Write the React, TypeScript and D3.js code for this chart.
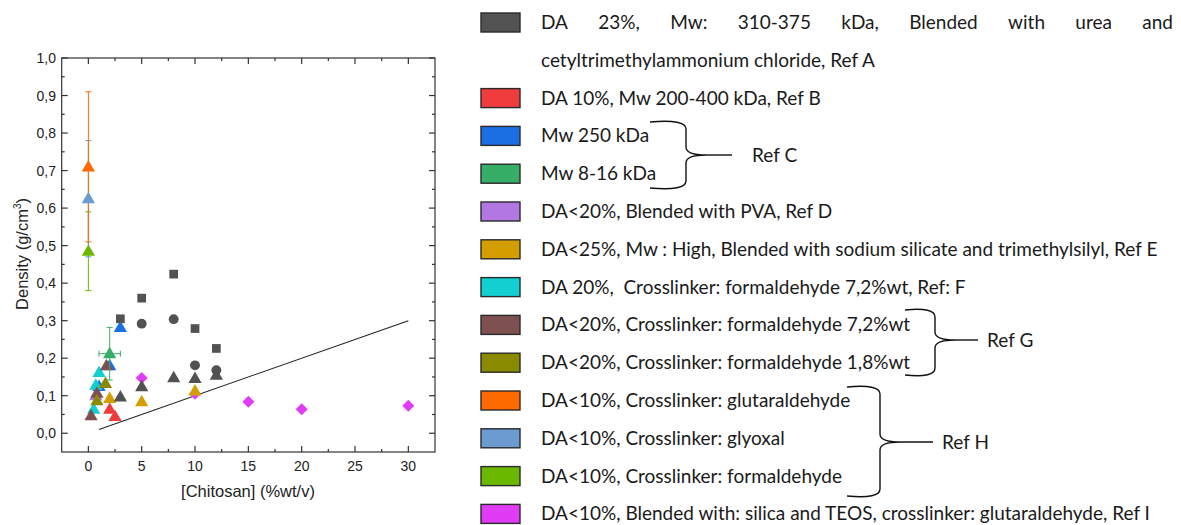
import React, { useEffect, useRef } from "react";
import * as d3 from "d3";

// ---------- data ----------
const xTicks = [0, 5, 10, 15, 20, 25, 30];
const yTicks = [0, 0.1, 0.2, 0.3, 0.4, 0.5, 0.6, 0.7, 0.8, 0.9, 1.0];

const refA_sq_x = [3, 5, 8, 10, 12];
const refA_sq_y = [0.305, 0.36, 0.424, 0.279, 0.226];
const refA_ci_x = [5, 8, 10, 12];
const refA_ci_y = [0.292, 0.304, 0.181, 0.168];
const refA_tr_x = [3, 5, 8, 10, 12];
const refA_tr_y = [0.097, 0.124, 0.148, 0.146, 0.155];
const refB_x = [2, 2.5];
const refB_y = [0.064, 0.045];
const refC250_x = [1, 2, 3];
const refC250_y = [0.125, 0.18, 0.282];
const refC816_x = [2];
const refC816_y = [0.212];
const refC816_xerr = [1];
const refC816_yerr = [0.07];
const refD_x = [0.7];
const refD_y = [0.1];
const refE_x = [2, 5, 10];
const refE_y = [0.093, 0.084, 0.113];
const refF_x = [1, 0.7, 0.5];
const refF_y = [0.162, 0.128, 0.064];
const refG72_x = [1.7, 0.8, 0.25];
const refG72_y = [0.18, 0.107, 0.047];
const refG18_x = [1.6, 0.8];
const refG18_y = [0.133, 0.087];
const refHglu_x = [0];
const refHglu_y = [0.71];
const refHglu_err = [0.2];
const refHgly_x = [0];
const refHgly_y = [0.625];
const refHgly_err = [0.155];
const refHfor_x = [0];
const refHfor_y = [0.485];
const refHfor_err = [0.105];
const refI_x = [5, 10, 15, 20, 30];
const refI_y = [0.147, 0.105, 0.084, 0.064, 0.073];
const trend_x = [1, 30];
const trend_y = [0.01, 0.3];

const legendLabels = [
  ["DA 23%, Mw: 310-375 kDa, Blended with urea and", "cetyltrimethylammonium chloride, Ref A"],
  ["DA 10%, Mw 200-400 kDa, Ref B"],
  ["Mw 250 kDa"],
  ["Mw 8-16 kDa"],
  ["DA<20%, Blended with PVA, Ref D"],
  ["DA<25%, Mw : High, Blended with sodium silicate and trimethylsilyl, Ref E"],
  ["DA 20%,\u00A0 Crosslinker: formaldehyde 7,2%wt, Ref: F"],
  ["DA<20%, Crosslinker: formaldehyde 7,2%wt"],
  ["DA<20%, Crosslinker: formaldehyde 1,8%wt"],
  ["DA<10%, Crosslinker: glutaraldehyde"],
  ["DA<10%, Crosslinker: glyoxal"],
  ["DA<10%, Crosslinker: formaldehyde"],
  ["DA<10%, Blended with: silica and TEOS, crosslinker: glutaraldehyde, Ref I"],
];
const braceLabels = ["Ref C", "Ref G", "Ref H"];

// ---------- styles ----------
const C = {
  A: "#525252",
  B: "#f03c3c",
  C250: "#1c6fe3",
  C816: "#36ae68",
  D: "#b277e3",
  E: "#d49e00",
  F: "#12cfd2",
  G72: "#7e5050",
  G18: "#8a8a00",
  Hglu: "#ff6a00",
  Hgly: "#6b9bd0",
  Hfor: "#6bb800",
  I: "#e03cf6",
};
const legendColors = [C.A, C.B, C.C250, C.C816, C.D, C.E, C.F, C.G72, C.G18, C.Hglu, C.Hgly, C.Hfor, C.I];

export default function App() {
  const ref = useRef<SVGSVGElement>(null);

  useEffect(() => {
    const svg = d3.select(ref.current);
    svg.selectAll("*").remove();

    const x = d3.scaleLinear().domain([-2.5, 32.5]).range([61.7, 435]);
    const y = d3.scaleLinear().domain([-0.05, 1.0]).range([452, 58]);

    const axisFont = "'Liberation Sans', Arial, sans-serif";
    const g = svg.append("g");

    // trend line
    g.append("line")
      .attr("x1", x(trend_x[0])).attr("y1", y(trend_y[0]))
      .attr("x2", x(trend_x[1])).attr("y2", y(trend_y[1]))
      .attr("stroke", "#222").attr("stroke-width", 1.1);

    const tri = d3.symbol().type(d3.symbolTriangle).size(76);
    const sq = d3.symbol().type(d3.symbolSquare).size(76);
    const ci = d3.symbol().type(d3.symbolCircle).size(76);
    const dia = d3.symbol().type(d3.symbolSquare).size(72);

    const draw = (xs: number[], ys: number[], sym: any, color: string, dy = 0.8, rot = 0) => {
      xs.forEach((xv, i) => {
        g.append("path")
          .attr("d", sym())
          .attr("transform", `translate(${x(xv)},${y(ys[i]) + dy}) rotate(${rot})`)
          .attr("fill", color);
      });
    };

    const errY = (xs: number[], ys: number[], es: number[], color: string) => {
      xs.forEach((xv, i) => {
        const cx = x(xv);
        const t = y(ys[i] + es[i]);
        const b = y(ys[i] - es[i]);
        g.append("line").attr("x1", cx).attr("x2", cx).attr("y1", t).attr("y2", b).attr("stroke", color).attr("stroke-width", 1);
        g.append("line").attr("x1", cx - 3).attr("x2", cx + 3).attr("y1", t).attr("y2", t).attr("stroke", color).attr("stroke-width", 1);
        g.append("line").attr("x1", cx - 3).attr("x2", cx + 3).attr("y1", b).attr("y2", b).attr("stroke", color).attr("stroke-width", 1);
      });
    };
    const errX = (xs: number[], ys: number[], es: number[], color: string) => {
      xs.forEach((xv, i) => {
        const cy = y(ys[i]);
        const l = x(xv - es[i]);
        const r = x(xv + es[i]);
        g.append("line").attr("x1", l).attr("x2", r).attr("y1", cy).attr("y2", cy).attr("stroke", color).attr("stroke-width", 1);
        g.append("line").attr("x1", l).attr("x2", l).attr("y1", cy - 3).attr("y2", cy + 3).attr("stroke", color).attr("stroke-width", 1);
        g.append("line").attr("x1", r).attr("x2", r).attr("y1", cy - 3).attr("y2", cy + 3).attr("stroke", color).attr("stroke-width", 1);
      });
    };

    draw(refI_x, refI_y, dia, C.I, 0, 45);
    draw(refD_x, refD_y, tri, C.D);
    draw(refC250_x, refC250_y, tri, C.C250);
    draw(refF_x, refF_y, tri, C.F);
    draw(refG72_x, refG72_y, tri, C.G72);
    draw(refG18_x, refG18_y, tri, C.G18);
    draw(refB_x, refB_y, tri, C.B);
    draw(refE_x, refE_y, tri, C.E);
    draw(refA_sq_x, refA_sq_y, sq, C.A, 0);
    draw(refA_ci_x, refA_ci_y, ci, C.A, 0);
    draw(refA_tr_x, refA_tr_y, tri, C.A);
    errY(refC816_x, refC816_y, refC816_yerr, C.C816);
    errX(refC816_x, refC816_y, refC816_xerr, C.C816);
    draw(refC816_x, refC816_y, tri, C.C816);
    errY(refHfor_x, refHfor_y, refHfor_err, C.Hfor);
    errY(refHgly_x, refHgly_y, refHgly_err, C.Hgly);
    errY(refHglu_x, refHglu_y, refHglu_err, C.Hglu);
    draw(refHfor_x, refHfor_y, tri, C.Hfor);
    draw(refHgly_x, refHgly_y, tri, C.Hgly);
    draw(refHglu_x, refHglu_y, tri, C.Hglu);

    // frame
    const [x0, x1] = x.range();
    const [y0, y1] = y.range();
    const ax = svg.append("g").attr("stroke", "#333").attr("stroke-width", 1.2);
    ax.append("rect").attr("x", x0).attr("y", y1).attr("width", x1 - x0).attr("height", y0 - y1).attr("fill", "none");

    const xMinor = d3.range(-2.5, 32.6, 2.5).filter((v) => v > -2.5 && v < 32.5);
    xMinor.forEach((v) => {
      const major = Math.abs(v % 5) < 1e-9;
      const L = major ? 6 : 3;
      ax.append("line").attr("x1", x(v)).attr("x2", x(v)).attr("y1", y0).attr("y2", y0 - L);
      ax.append("line").attr("x1", x(v)).attr("x2", x(v)).attr("y1", y1).attr("y2", y1 + L);
    });
    const yMinor = d3.range(0, 1.0001, 0.05);
    yMinor.forEach((v, i) => {
      const major = i % 2 === 0;
      const L = major ? 6 : 3;
      ax.append("line").attr("x1", x0).attr("x2", x0 + L).attr("y1", y(v)).attr("y2", y(v));
      ax.append("line").attr("x1", x1).attr("x2", x1 - L).attr("y1", y(v)).attr("y2", y(v));
    });

    const lab = svg.append("g").attr("font-family", axisFont).attr("font-size", 14).attr("fill", "#222");
    xTicks.forEach((v) => {
      lab.append("text").attr("x", x(v)).attr("y", 470.5).attr("text-anchor", "middle").text(String(v));
    });
    yTicks.forEach((v) => {
      lab.append("text").attr("x", 56).attr("y", y(v) + 5).attr("text-anchor", "end").text(v.toFixed(1).replace(".", ","));
    });
    lab.append("text").attr("x", 248).attr("y", 497).attr("text-anchor", "middle").attr("font-size", 16.5).text("[Chitosan] (%wt/v)");
    const yl = lab.append("text").attr("transform", "translate(28,254) rotate(-90)").attr("text-anchor", "middle").attr("font-size", 16.5);
    yl.append("tspan").text("Density (g/cm");
    yl.append("tspan").attr("font-size", 10).attr("dy", -7).text("3");
    yl.append("tspan").attr("dy", 7).text(")");

    // legend
    const legFont = "Lato, 'Open Sans', sans-serif";
    const leg = svg.append("g").attr("font-family", legFont).attr("font-size", 19).attr("fill", "#1a1a1a");
    const rowY = (i: number) => 22.5 + 37.8 * i;
    let row = 0;
    legendLabels.forEach((lines, k) => {
      const cy = rowY(row);
      leg.append("rect").attr("x", 481).attr("y", cy - 9.5).attr("width", 39).attr("height", 19)
        .attr("fill", legendColors[k]).attr("stroke", "#2a2a2a").attr("stroke-width", 1.4);
      lines.forEach((t, li) => {
        const ty = rowY(row + li) + 6.5;
        if (k === 0 && li === 0) {
          const words = t.split(" ");
          const nodes = words.map((w) => leg.append("text").attr("x", 541).attr("y", ty).text(w));
          const widths = nodes.map((n) => (n.node() as SVGTextElement).getComputedTextLength());
          const total = 1173 - 541;
          const gap = (total - d3.sum(widths)) / (words.length - 1);
          let cx = 541;
          nodes.forEach((n, j) => {
            n.attr("x", cx);
            cx += widths[j] + gap;
          });
        } else {
          leg.append("text").attr("x", 541).attr("y", ty).attr("xml:space", "preserve").text(t);
        }
      });
      row += lines.length;
    });

    // braces
    const br = svg.append("g").attr("fill", "none").attr("stroke", "#111").attr("stroke-width", 1.4);
    const brace = (xl: number, xv: number, xt: number, xe: number, yT: number, yM: number, yB: number, label: string, gap: number) => {
      const r = 8;
      br.append("path").attr("d",
        `M${xl},${yT + 1} Q${xv},${yT - 2} ${xv},${yT + r} L${xv},${yM - r} Q${xv},${yM} ${xt},${yM}` +
        ` Q${xv},${yM} ${xv},${yM + r} L${xv},${yB - r} Q${xv},${yB + 2} ${xl},${yB - 1}`);
      br.append("line").attr("x1", xt).attr("x2", xe).attr("y1", yM).attr("y2", yM);
      leg.append("text").attr("x", xe + gap).attr("y", yM + 6.5).text(label);
    };
    brace(650, 686, 706, 732, 121, 155, 189, braceLabels[0], 20);
    brace(905, 935, 955, 978, 309, 340, 376, braceLabels[1], 9);
    brace(847, 880, 900, 933, 386, 442, 497, braceLabels[2], 9);
  }, []);

  return (
    <svg
      ref={ref}
      width={1181}
      height={525}
      style={{ position: "absolute", left: 0, top: 0, background: "#fff" }}
    />
  );
}
